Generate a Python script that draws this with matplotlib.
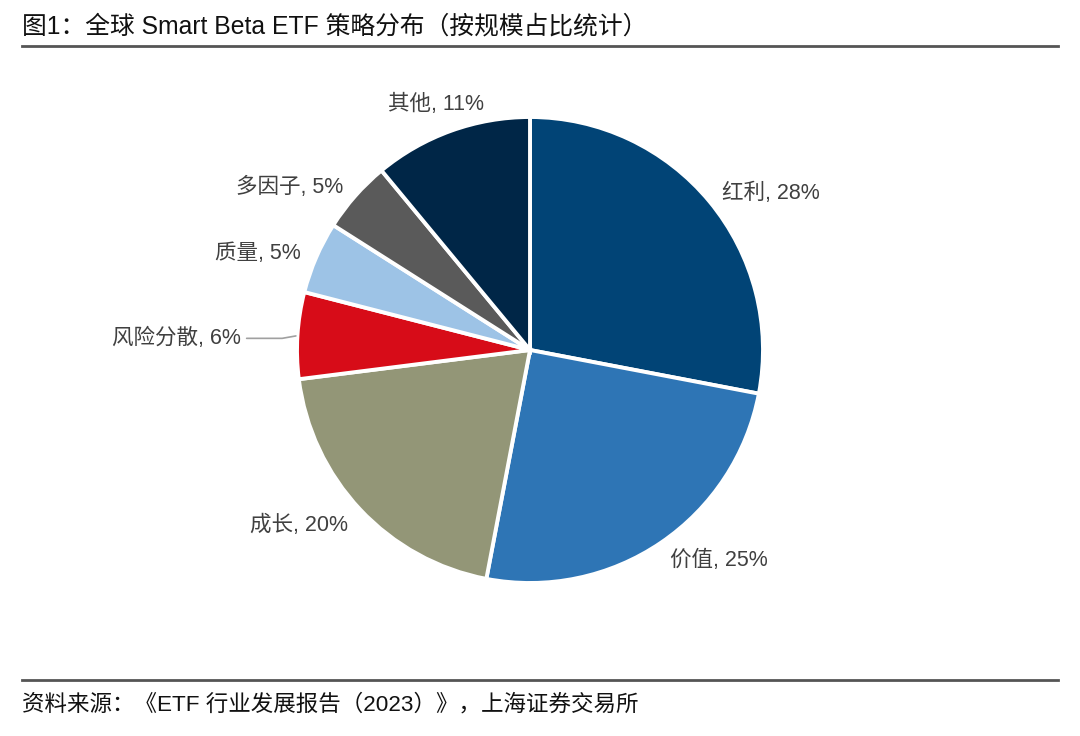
import numpy as np
import matplotlib.pyplot as plt
from matplotlib.lines import Line2D

plt.rcParams['font.family'] = ['Liberation Sans', 'Noto Sans CJK SC', 'DejaVu Sans']

categories = ["红利", "价值", "成长", "风险分散", "质量", "多因子", "其他"]
shares = [28, 25, 20, 6, 5, 5, 11]
colors = ["#014476", "#2E75B5", "#939677", "#D70C18", "#9DC3E6", "#5A5A5A", "#002647"]

title = "图1：全球 Smart Beta ETF 策略分布（按规模占比统计）"
source = "资料来源：《ETF 行业发展报告（2023）》，上海证券交易所"

W, H = 1080, 736
fig = plt.figure(figsize=(W / 100, H / 100), dpi=100)

# pie centre and radius in pixels
cx, cy, r = 530, 350, 233
half = 320
ax = fig.add_axes([(cx - half) / W, (H - cy - half) / H, 2 * half / W, 2 * half / H])

wedges, _ = ax.pie(shares, colors=colors, startangle=90, counterclock=False,
                   wedgeprops=dict(edgecolor="white", linewidth=2.8))
lim = half / r
ax.set_xlim(-lim, lim)
ax.set_ylim(-lim, lim)
ax.set_aspect("equal")
ax.axis("off")

fs = 15.5
for w, cat, val in zip(wedges, categories, shares):
    theta = np.deg2rad((w.theta1 + w.theta2) / 2)
    c, s = np.cos(theta), np.sin(theta)
    label = f"{cat}, {val}%"
    if cat == "风险分散":
        ax.annotate(label, xy=(0.995 * c, 0.995 * s), xytext=(-1.24, 0.05),
                    ha="right", va="center", fontsize=fs, color="#404040",
                    arrowprops=dict(arrowstyle="-", color="#A0A0A0", lw=1.2,
                                    connectionstyle="angle,angleA=0,angleB=10,rad=0"))
        continue
    d = 1.07
    if abs(c) < 0.4:
        ax.text(d * c - 0.04, d * s, label, ha="center", va="bottom", fontsize=fs, color="#404040")
    else:
        # nudge lower labels a little down, as in the original layout
        yoff = -0.02 if s < 0 else -0.01
        ax.text(d * c, d * s + yoff, label, ha="left" if c > 0 else "right", va="center",
                fontsize=fs, color="#404040")

fig.text(22 / W, 1 - 27 / H, title, ha="left", va="center", fontsize=17.8, color="#111111")
fig.add_artist(Line2D([22 / W, 1058 / W], [1 - 46 / H, 1 - 46 / H], color="#555555", lw=2))
fig.add_artist(Line2D([22 / W, 1058 / W], [1 - 680 / H, 1 - 680 / H], color="#555555", lw=2))
fig.text(22 / W, 1 - 705 / H, source, ha="left", va="center", fontsize=16.2, color="#111111")

fig.savefig("out.png", dpi=100)
